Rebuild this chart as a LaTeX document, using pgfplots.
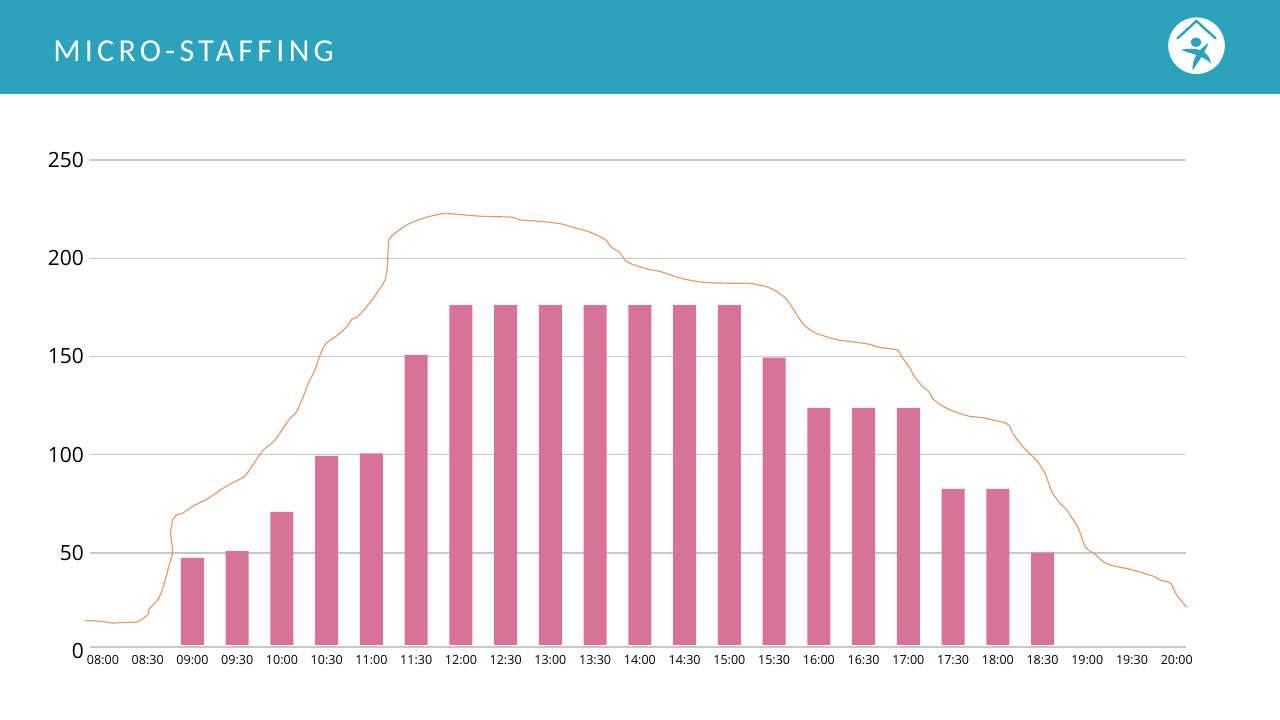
\documentclass[border=0pt]{standalone}
\usepackage{fontspec}
\usepackage{pgfplots}
\usepackage{pgfplotstable}
\pgfplotsset{compat=1.18}
\setmainfont{Open Sans}
\newfontfamily\titlefont[LetterSpace=13.4]{Carlito}
\definecolor{header}{RGB}{44,163,188}
\definecolor{barpink}{RGB}{216,114,152}
\definecolor{lineorange}{RGB}{228,156,106}
\definecolor{gridgrey}{RGB}{200,200,200}

\pgfplotstableread{
x y
2 47.5
3 51.0
4 70.9
5 99.4
6 100.7
7 150.8
8 176.2
9 176.2
10 176.2
11 176.2
12 176.2
13 176.2
14 176.2
15 149.4
16 123.8
17 123.8
18 123.8
19 82.6
20 82.6
21 50.2
}\staffing

\pgfplotstableread{
x y
-0.402 15.7
-0.067 15.3
0.194 14.4
0.447 14.6
0.753 14.9
0.901 16.7
1.028 19.3
1.013 21.0
1.236 26.5
1.348 32.9
1.460 42.2
1.558 50.6
1.513 60.1
1.558 66.8
1.647 69.4
1.795 70.5
2.056 74.4
2.318 77.3
2.653 82.5
2.912 85.9
3.174 89.2
3.397 96.4
3.583 102.4
3.844 107.5
4.180 118.5
4.329 121.9
4.477 129.6
4.589 136.4
4.738 143.1
4.850 150.8
4.984 156.7
5.223 160.5
5.447 165.1
5.559 168.9
5.670 169.9
5.818 173.3
6.080 180.8
6.303 188.9
6.355 195.7
6.392 209.3
6.565 213.5
6.824 217.4
7.159 220.4
7.606 222.8
8.053 222.1
8.500 221.3
9.135 220.9
9.321 219.5
9.768 218.8
10.215 217.6
10.588 215.2
10.885 213.3
11.220 209.6
11.370 205.4
11.540 203.2
11.667 199.1
11.817 197.0
12.226 194.2
12.450 193.3
12.897 189.9
13.270 188.2
13.567 187.5
14.014 187.3
14.499 187.1
14.870 185.2
15.094 182.5
15.295 178.7
15.653 166.4
15.914 162.1
16.399 158.6
17.070 156.5
17.405 154.4
17.754 153.4
17.852 149.9
18.053 143.5
18.111 140.6
18.335 134.3
18.447 132.4
18.558 128.3
18.746 125.0
19.005 122.1
19.340 119.7
19.676 118.8
19.899 117.6
20.161 116.3
20.273 114.3
20.333 110.9
20.570 103.8
20.869 97.0
21.055 90.6
21.205 81.2
21.391 75.3
21.540 71.9
21.800 62.5
21.949 53.2
22.061 51.0
22.172 49.4
22.358 45.6
22.582 43.5
22.955 41.7
23.476 38.2
23.625 36.3
23.864 34.6
23.998 28.6
24.222 22.4
}\demand

\begin{document}
\begin{tikzpicture}[x=0.75pt,y=-0.75pt]
\useasboundingbox (0,0) rectangle (1280,720);
% header band
\fill[header] (0,0) rectangle (1280,94);
\node[anchor=base west,inner sep=0pt,text=white,font=\titlefont\fontsize{24}{26}\selectfont] at (53,62) {MICRO-STAFFING};
% logo
\fill[white] (1196.5,45.7) circle (28.3);
\draw[header,line width=1.8pt,line cap=round,line join=miter] (1177.5,38.3) -- (1196.4,21) -- (1215.5,38.3);
\fill[header] (1196,42.3) ellipse (5.4 and 4.8);
\fill[header] (1180.7,50) .. controls (1195,46.5) and (1209,50) .. (1211,63.5) .. controls (1204,56.5) and (1193,54) .. cycle;
\fill[header] (1208.5,43) .. controls (1204,54) and (1198,62) .. (1192.7,70.5) .. controls (1191.5,60) and (1198,50) .. cycle;
\begin{axis}[
  at={(67.5pt,-488.44pt)}, anchor=south west,
  scale only axis, width=822pt, height=368.44pt,
  xmin=-0.29, xmax=24.206, ymin=0, ymax=250,
  clip=false,
  axis line style={draw=none},
  major tick length=0pt,
  tick style={draw=none},
  ymajorgrids, grid style={gridgrey,line width=0.85pt},
  ytick={0,50,100,150,200,250},
  xtick={0,...,24},
  xticklabels={08:00,08:30,09:00,09:30,10:00,10:30,11:00,11:30,12:00,12:30,13:00,13:30,14:00,14:30,15:00,15:30,16:00,16:30,17:00,17:30,18:00,18:30,19:00,19:30,20:00},
  /pgf/number format/assume math mode=true,
  x tick label style={font=\fontsize{9.4}{11}\selectfont,inner sep=0pt},
  xticklabel shift=2.8pt,
  y tick label style={font=\fontsize{15.7}{18}\selectfont,inner sep=0pt},
  yticklabel shift=4.5pt,
]
\addplot[ybar,bar width=17.25pt,bar shift=0pt,fill=barpink,draw=none] table[x=x,y=y] {\staffing};
% the reference's baseline sits above its zero label, and the bars stop just over it
\fill[white] (axis cs:-0.29,-0.6) rectangle (axis cs:24.206,3.2);
\draw[gridgrey,line width=0.85pt] (axis cs:-0.29,2.16) -- (axis cs:24.206,2.16);
\addplot[lineorange,line width=0.9pt,no markers,smooth,tension=0.35] table[x=x,y=y] {\demand};
\end{axis}
\end{tikzpicture}
\end{document}
